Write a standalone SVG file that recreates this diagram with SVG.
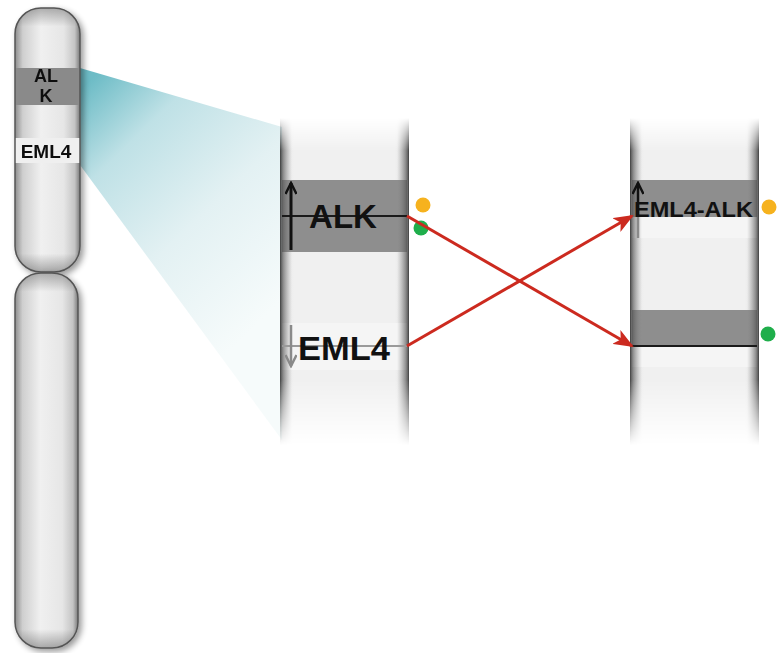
<svg xmlns="http://www.w3.org/2000/svg" width="782" height="653" viewBox="0 0 782 653">
  <style>
    .lbl { font-family: "Liberation Sans", Arial, sans-serif; font-weight: bold; fill: #111; }
    .fuse { stroke: #cc2a1f; stroke-width: 3; fill: none; marker-end: url(#redHead); }
    .edgeL { fill: url(#edgeLeft); }
    .edgeR { fill: url(#edgeRight); }
  </style>
  <defs>
    <!-- capsule shading for the chromosome arms -->
    <linearGradient id="armFill" x1="0" y1="0" x2="1" y2="0">
      <stop offset="0" stop-color="#8c8c8c"/>
      <stop offset="0.12" stop-color="#cfcfcf"/>
      <stop offset="0.4" stop-color="#f0f0f0"/>
      <stop offset="0.75" stop-color="#e6e6e6"/>
      <stop offset="0.92" stop-color="#c4c4c4"/>
      <stop offset="1" stop-color="#7a7a7a"/>
    </linearGradient>
    <linearGradient id="armEnds" x1="0" y1="0" x2="0" y2="1">
      <stop offset="0" stop-color="#000" stop-opacity="0.28"/>
      <stop offset="0.07" stop-color="#000" stop-opacity="0"/>
      <stop offset="0.93" stop-color="#000" stop-opacity="0"/>
      <stop offset="1" stop-color="#000" stop-opacity="0.3"/>
    </linearGradient>
    <linearGradient id="armEndsLong" x1="0" y1="0" x2="0" y2="1">
      <stop offset="0" stop-color="#000" stop-opacity="0.28"/>
      <stop offset="0.05" stop-color="#000" stop-opacity="0"/>
      <stop offset="0.95" stop-color="#000" stop-opacity="0"/>
      <stop offset="1" stop-color="#000" stop-opacity="0.3"/>
    </linearGradient>
    <filter id="softShadow" x="-30%" y="-10%" width="160%" height="120%">
      <feGaussianBlur in="SourceAlpha" stdDeviation="3"/>
      <feOffset dx="3" dy="3"/>
      <feComponentTransfer><feFuncA type="linear" slope="0.4"/></feComponentTransfer>
      <feMerge><feMergeNode/><feMergeNode in="SourceGraphic"/></feMerge>
    </filter>
    <clipPath id="upperArmClip">
      <rect x="15" y="8" width="65" height="264" rx="26" ry="26"/>
    </clipPath>

    <!-- zoom wedge -->
    <linearGradient id="wedgeFill" gradientUnits="userSpaceOnUse" x1="80" y1="90" x2="282" y2="300">
      <stop offset="0" stop-color="#6dbcc6"/>
      <stop offset="0.25" stop-color="#bfe1e6"/>
      <stop offset="0.6" stop-color="#e3f1f3"/>
      <stop offset="1" stop-color="#f6fbfb"/>
    </linearGradient>

    <!-- zoomed chromosome segments -->
    <linearGradient id="segBody" x1="0" y1="0" x2="1" y2="0">
      <stop offset="0" stop-color="#e6e6e6"/>
      <stop offset="0.1" stop-color="#f0f0f0"/>
      <stop offset="0.9" stop-color="#f0f0f0"/>
      <stop offset="1" stop-color="#e2e2e2"/>
    </linearGradient>
    <linearGradient id="edgeLeft" x1="0" y1="0" x2="1" y2="0">
      <stop offset="0" stop-color="#333" stop-opacity="0.95"/>
      <stop offset="0.25" stop-color="#555" stop-opacity="0.65"/>
      <stop offset="1" stop-color="#888" stop-opacity="0"/>
    </linearGradient>
    <linearGradient id="edgeRight" x1="1" y1="0" x2="0" y2="0">
      <stop offset="0" stop-color="#333" stop-opacity="0.95"/>
      <stop offset="0.25" stop-color="#555" stop-opacity="0.65"/>
      <stop offset="1" stop-color="#888" stop-opacity="0"/>
    </linearGradient>
    <linearGradient id="fadeGrad" gradientUnits="userSpaceOnUse" x1="0" y1="118" x2="0" y2="445">
      <stop offset="0" stop-color="#000"/>
      <stop offset="0.1" stop-color="#fff"/>
      <stop offset="0.8" stop-color="#fff"/>
      <stop offset="1" stop-color="#000"/>
    </linearGradient>
    <mask id="segFade" maskUnits="userSpaceOnUse" x="0" y="0" width="782" height="653">
      <rect x="0" y="0" width="782" height="653" fill="url(#fadeGrad)"/>
    </mask>

    <marker id="redHead" markerUnits="userSpaceOnUse" markerWidth="20" markerHeight="16" viewBox="0 0 20 16" refX="18" refY="8" orient="auto">
      <path d="M0,0 L20,8 L0,16 L5,8 z" fill="#cc2a1f"/>
    </marker>
    <marker id="blackHead" markerUnits="userSpaceOnUse" markerWidth="14" markerHeight="12" viewBox="0 0 14 12" refX="12" refY="6" orient="auto">
      <path d="M1,0.5 L12,6 L1,11.5" fill="none" stroke="#111" stroke-width="2.5"/>
    </marker>
    <marker id="grayHead" markerUnits="userSpaceOnUse" markerWidth="14" markerHeight="12" viewBox="0 0 14 12" refX="12" refY="6" orient="auto">
      <path d="M1,0.5 L12,6 L1,11.5" fill="none" stroke="#8a8a8a" stroke-width="2.5"/>
    </marker>
  </defs>

  <rect width="782" height="653" fill="#ffffff"/>

  <!-- zoom wedge from the chromosome to the enlarged segment -->
  <polygon id="zoomWedge" points="80,68 282,127 282,440 80,165" fill="url(#wedgeFill)"/>

  <!-- whole chromosome -->
  <g id="chromosome">
    <g id="upperArm" filter="url(#softShadow)">
      <rect x="15" y="8" width="65" height="264" rx="26" ry="26" fill="url(#armFill)"/>
      <g clip-path="url(#upperArmClip)">
        <rect x="15" y="68" width="65" height="37" fill="#8a8a8a"/>
        <rect x="15" y="138" width="65" height="25" fill="#efefef"/>
        <rect x="15" y="8" width="65" height="264" fill="url(#armEnds)"/>
      </g>
      <rect x="15" y="8" width="65" height="264" rx="26" ry="26" fill="none" stroke="#555" stroke-width="1.5"/>
      <text class="lbl" x="46" y="82" font-size="18" text-anchor="middle">AL</text>
      <text class="lbl" x="46" y="102" font-size="18" text-anchor="middle">K</text>
      <text class="lbl" x="46" y="158" font-size="19" text-anchor="middle">EML4</text>
    </g>
    <g id="lowerArm" filter="url(#softShadow)">
      <rect x="15" y="273" width="63" height="375" rx="26" ry="26" fill="url(#armFill)"/>
      <rect x="15" y="273" width="63" height="375" rx="26" ry="26" fill="url(#armEndsLong)"/>
      <rect x="15" y="273" width="63" height="375" rx="26" ry="26" fill="none" stroke="#555" stroke-width="1.5"/>
    </g>
  </g>

  <!-- enlarged region before the rearrangement -->
  <g id="segmentNormal" mask="url(#segFade)">
    <rect x="282" y="110" width="125" height="340" fill="url(#segBody)"/>
    <rect x="282" y="180" width="125" height="72" fill="#8e8e8e"/>
    <rect x="282" y="323" width="125" height="47" fill="#f5f5f5"/>
    <rect class="edgeL" x="280" y="110" width="12" height="340"/>
    <rect class="edgeR" x="397" y="110" width="12" height="340"/>
  </g>
  <g id="geneALK">
    <line x1="282" y1="216" x2="407" y2="216" stroke="#1a1a1a" stroke-width="2"/>
    <line x1="291" y1="250" x2="291" y2="183" stroke="#111" stroke-width="3" marker-end="url(#blackHead)"/>
    <text class="lbl" x="343" y="228" font-size="33" text-anchor="middle">ALK</text>
    <circle cx="423" cy="205" r="7.5" fill="#f6b21e"/>
    <circle cx="421" cy="228" r="7.5" fill="#1fae4b"/>
  </g>
  <g id="geneEML4">
    <line x1="282" y1="346" x2="407" y2="346" stroke="#9a9a9a" stroke-width="2"/>
    <line x1="291" y1="325" x2="291" y2="366" stroke="#8a8a8a" stroke-width="2.5" marker-end="url(#grayHead)"/>
    <text class="lbl" x="298" y="360" font-size="33" textLength="92" lengthAdjust="spacingAndGlyphs">EML4</text>
  </g>

  <!-- rearranged region -->
  <g id="segmentFused" mask="url(#segFade)">
    <rect x="632" y="110" width="125" height="340" fill="url(#segBody)"/>
    <rect x="632" y="180" width="125" height="37" fill="#8e8e8e"/>
    <rect x="632" y="217" width="125" height="21" fill="#f5f5f5"/>
    <rect x="632" y="310" width="125" height="36" fill="#8e8e8e"/>
    <rect x="632" y="346" width="125" height="21" fill="#f5f5f5"/>
    <rect class="edgeL" x="630" y="110" width="12" height="340"/>
    <rect class="edgeR" x="747" y="110" width="12" height="340"/>
  </g>
  <g id="geneFusion">
    <line x1="638" y1="217" x2="638" y2="238" stroke="#8a8a8a" stroke-width="2.5"/>
    <line x1="638" y1="217" x2="638" y2="183" stroke="#111" stroke-width="2.5" marker-end="url(#blackHead)"/>
    <text class="lbl" x="634" y="217" font-size="22" textLength="119" lengthAdjust="spacingAndGlyphs" fill="#222">EML4-ALK</text>
    <circle cx="769" cy="207" r="7.5" fill="#f6b21e"/>
  </g>
  <g id="breakpointALK">
    <line x1="632" y1="346" x2="757" y2="346" stroke="#1a1a1a" stroke-width="2"/>
    <circle cx="768" cy="334" r="7.5" fill="#1fae4b"/>
  </g>

  <!-- translocation connectors -->
  <g id="connectors">
    <line class="fuse" x1="407" y1="216" x2="632" y2="346"/>
    <line class="fuse" x1="407" y1="346" x2="632" y2="216"/>
  </g>
</svg>
